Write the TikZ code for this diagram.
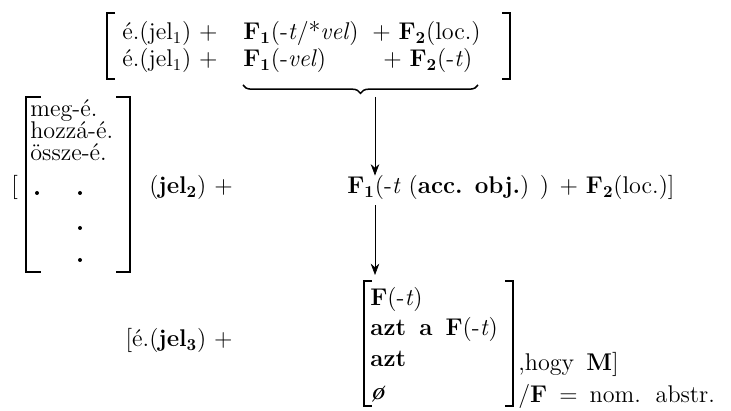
\documentclass[tikz,border=0pt]{standalone}
\usepackage{amsmath,amssymb}
\usepackage{tikz}
\usetikzlibrary{arrows.meta,positioning,calc,decorations.pathreplacing}

\begin{document}
\begin{tikzpicture}[x=0.6pt,y=-0.6pt,>={Stealth[length=2.4mm,width=1.8mm]},
txt/.style={anchor=base west,inner sep=0pt,font=\fontsize{14.5}{16}\selectfont},
wide/.style={txt,execute at begin node={\spaceskip=0.5em}},
brk/.style={line width=1.1pt},
dot/.style={circle,fill,inner sep=0pt,minimum size=2.4pt}]
\useasboundingbox[fill=white] (0,0) rectangle (731,411);
% top bracket
\node[txt] (ra1) at (122,40) {é.(jel$_1$) +};
\node[txt] (rb1) at (243,40) {\textbf{F}$_{\mathbf 1}$(-\textit{t}/*\textit{vel})};
\node[txt] (rc1) at (372,40) {+ \textbf{F}$_{\mathbf 2}$(loc.)};
\node[txt] (ra2) at (122,67) {é.(jel$_1$) +};
\node[txt] (rb2) at (243,67) {\textbf{F}$_{\mathbf 1}$(-\textit{vel})};
\node[txt] (rc2) at (383,67) {+ \textbf{F}$_{\mathbf 2}$(-\textit{t})};
\draw[brk] (115,13)--(107,13)--(107,79)--(115,79);
\draw[brk] (502,13)--(510,13)--(510,79)--(502,79);
\draw[line width=0.9pt,decorate,decoration={brace,mirror,amplitude=5pt}] (243,85)--(478,85);
\coordinate (tip) at (375,97);
% middle line
\node[txt] (open2) at (11,194) {[};
\draw[brk] (41,97)--(26,97)--(26,272)--(41,272);
\draw[brk] (116,97)--(130,97)--(130,272)--(116,272);
\node[txt] (meg) at (30,117) {meg-é.};
\node[txt] (hozza) at (30,139) {hozzá-é.};
\node[txt] (ossze) at (30,161) {össze-é.};
\node[dot] (d1) at (37,193) {};
\node[dot] (d2) at (80,193) {};
\node[dot] (d3) at (80,228) {};
\node[dot] (d4) at (80,260) {};
\node[txt,anchor=base east] (jel2) at (233,194) {(\textbf{jel}$_{\mathbf 2}$) +};
\node[txt] (f1) at (347,194) {\textbf{F}$_{\mathbf 1}$(-\textit{t} (\textbf{acc. obj.}) ) + \textbf{F}$_{\mathbf 2}$(loc.)]};
\draw[->] (tip)--(tip |- f1.north);
% bottom bracket
\node[txt,anchor=base east] (jel3) at (233,347) {[é.(\textbf{jel}$_{\mathbf 3}$) +};
\draw[brk] (372,281)--(364,281)--(364,406)--(372,406);
\draw[brk] (505,281)--(513,281)--(513,406)--(505,406);
\node[txt] (b1) at (370,305) {\textbf{F}(-\textit{t})};
\node[txt] (b2) at (370,336) {\textbf{azt\, a\, F}(-\textit{t})};
\node[txt] (b3) at (370,367) {\textbf{azt}};
\node[txt] (b4) at (370,400) {\textbf{\textit{ø}}};
\coordinate (bktop) at (375,275);
\draw[->,shorten <=3pt] (f1.south -| tip)--(bktop);
\node[wide] (hogy) at (518,370) {,hogy \textbf{M}]};
\node[wide] (nom) at (518,403) {/\textbf{F} $=$ nom. abstr.};
\end{tikzpicture}
\end{document}
